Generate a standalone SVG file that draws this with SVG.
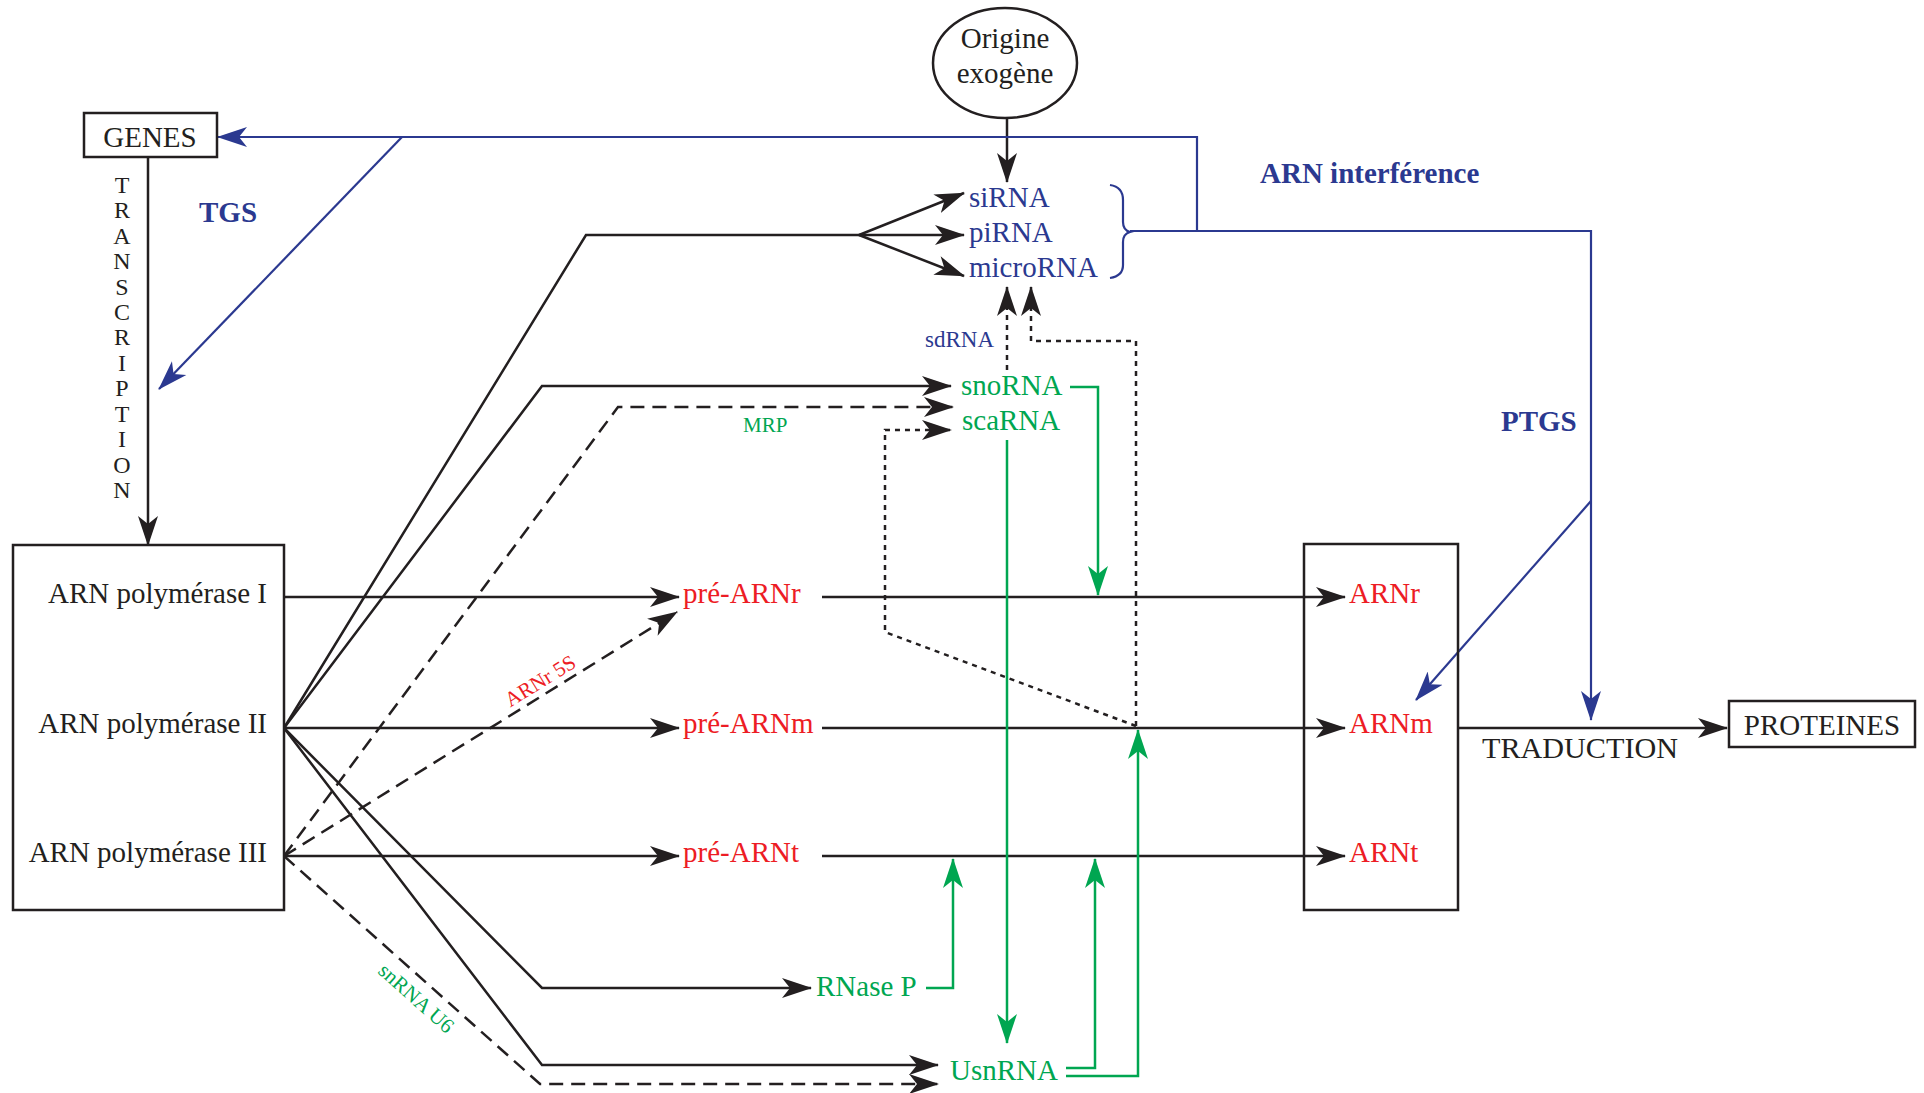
<svg xmlns="http://www.w3.org/2000/svg" width="1924" height="1093" viewBox="0 0 1924 1093">
<style>
text{font-family:"Liberation Serif","Times New Roman",serif;font-size:29px;fill:#231f20}
.b{font-weight:bold;fill:#2b3990}
.red{fill:#ed1c24}
.grt{fill:#00a651}
.blt{fill:#2b3990}
.sm{font-size:21px}
.sd{font-size:23px}
.tr{font-size:24px}
.box{fill:#fff;stroke:#231f20;stroke-width:2.5}
.frame{fill:none;stroke:#231f20;stroke-width:2.5}
.ln{fill:none;stroke:#231f20;stroke-width:2.5}
.dash{stroke-dasharray:14 8}
.dot{stroke-dasharray:5 5}
.g{stroke:#00a651}
.bl{fill:none;stroke:#2b3990;stroke-width:2.2}
.ak{marker-end:url(#ak)}
.ag{marker-end:url(#ag)}
.ab{marker-end:url(#ab)}
</style>
<defs>
<marker id="ak" markerUnits="userSpaceOnUse" viewBox="0 0 30 22" markerWidth="30" markerHeight="22" refX="29" refY="11" orient="auto"><path d="M30,11 L0,1 L8,11 L0,21 Z" fill="#231f20"/></marker>
<marker id="ag" markerUnits="userSpaceOnUse" viewBox="0 0 30 22" markerWidth="30" markerHeight="22" refX="29" refY="11" orient="auto"><path d="M30,11 L0,1 L8,11 L0,21 Z" fill="#00a651"/></marker>
<marker id="ab" markerUnits="userSpaceOnUse" viewBox="0 0 30 22" markerWidth="30" markerHeight="22" refX="29" refY="11" orient="auto"><path d="M30,11 L0,1 L8,11 L0,21 Z" fill="#2b3990"/></marker>
</defs>
<rect width="1924" height="1093" fill="#fff"/>

<g id="connectors">
<!-- black solid -->
<path class="ln ak" d="M148,157 L148,545"/>
<path class="ln ak" d="M1007,118 L1007,182"/>
<path class="ln ak" d="M284,597 L679,597"/>
<path class="ln ak" d="M284,728 L679,728"/>
<path class="ln ak" d="M284,856 L679,856"/>
<path class="ln" d="M284,728 L586,235 L859,235"/>
<path class="ln ak" d="M859,235 L964,193"/>
<path class="ln ak" d="M859,235 L964,235"/>
<path class="ln ak" d="M859,235 L964,276"/>
<path class="ln ak" d="M284,728 L542,386 L951,386"/>
<path class="ln ak" d="M284,728 L542,988 L811,988"/>
<path class="ln ak" d="M284,728 L542,1065 L938,1065"/>
<path class="ln ak" d="M822,597 L1345,597"/>
<path class="ln ak" d="M822,728 L1345,728"/>
<path class="ln ak" d="M822,856 L1345,856"/>
<path class="ln ak" d="M1458,728 L1727,728"/>
<!-- black dashed -->
<path class="ln dash ak" d="M284,856 L618,407 L953,407"/>
<path class="ln dash ak" d="M284,856 L677,612"/>
<path class="ln dash ak" d="M284,856 L540,1084 L938,1084"/>
<!-- black dotted -->
<path class="ln dot ak" d="M1007,370 L1007,287"/>
<path class="ln dot ak" d="M1136,726 L1136,341 L1031,341 L1031,287"/>
<path class="ln dot ak" d="M1136,726 L885,632 L885,430 L951,430"/>
<!-- green -->
<path class="ln g ag" d="M1070,387 L1098,387 L1098,595"/>
<path class="ln g ag" d="M1007,440 L1007,1043"/>
<path class="ln g ag" d="M926,988 L953,988 L953,859"/>
<path class="ln g ag" d="M1066,1068 L1095,1068 L1095,859"/>
<path class="ln g ag" d="M1066,1076 L1138,1076 L1138,730"/>
<!-- blue -->
<path class="bl" d="M1110,185 Q1123,187 1123,200 L1123,222 Q1123,230 1130,232 Q1123,234 1123,242 L1123,265 Q1123,276 1110,278"/>
<path class="bl ab" d="M1130,231 L1591,231 L1591,720"/>
<path class="bl ab" d="M1197,231 L1197,137 L218,137"/>
<path class="bl ab" d="M402,137 L159,389"/>
<path class="bl ab" d="M1591,501 L1416,700"/>
</g>

<g id="genes"><rect class="box" x="84" y="113" width="133" height="44"/><text x="150" y="147" text-anchor="middle">GENES</text></g>
<g id="origine"><ellipse cx="1005" cy="63" rx="72" ry="55" fill="#fff" stroke="#231f20" stroke-width="2.5"/><text x="1005" y="48" text-anchor="middle">Origine</text><text x="1005" y="83" text-anchor="middle">exogène</text></g>
<g id="polymerases"><rect class="box" x="13" y="545" width="271" height="365"/>
<text x="267" y="603" text-anchor="end">ARN polymérase I</text>
<text x="267" y="733" text-anchor="end">ARN polymérase II</text>
<text x="267" y="862" text-anchor="end">ARN polymérase III</text></g>
<g id="sirna"><text class="blt" x="969" y="207">siRNA</text></g>
<g id="pirna"><text class="blt" x="969" y="242">piRNA</text></g>
<g id="microrna"><text class="blt" x="969" y="277">microRNA</text></g>
<g id="snorna"><text class="grt" x="961" y="395">snoRNA</text></g>
<g id="scarna"><text class="grt" x="962" y="430">scaRNA</text></g>
<g id="pre-arnr"><text class="red" x="683" y="603">pré-ARNr</text></g>
<g id="pre-arnm"><text class="red" x="683" y="733">pré-ARNm</text></g>
<g id="pre-arnt"><text class="red" x="683" y="862">pré-ARNt</text></g>
<g id="rnasep"><text class="grt" x="816" y="996">RNase P</text></g>
<g id="usnrna"><text class="grt" x="950" y="1080">UsnRNA</text></g>
<g id="arn-matures"><rect class="frame" x="1304" y="544" width="154" height="366"/>
<text class="red" x="1349" y="603">ARNr</text>
<text class="red" x="1349" y="733">ARNm</text>
<text class="red" x="1349" y="862">ARNt</text></g>
<g id="proteines"><rect class="box" x="1729" y="701" width="186" height="46"/><text x="1822" y="735" text-anchor="middle">PROTEINES</text></g>

<g id="labels">
<text class="b" x="199" y="222">TGS</text>
<text class="b" x="1260" y="183">ARN interférence</text>
<text class="b" x="1501" y="431">PTGS</text>
<text x="1482" y="758" textLength="196" lengthAdjust="spacingAndGlyphs">TRADUCTION</text>
<text class="blt sd" x="925" y="347">sdRNA</text>
<text class="grt sm" x="743" y="432">MRP</text>
<text class="red sm" transform="translate(547,692) rotate(-31.7)" x="0" y="-6" text-anchor="middle">ARNr 5S</text>
<text class="grt sm" transform="translate(429,984) rotate(41.7)" x="0" y="26" text-anchor="middle">snRNA U6</text>
<text class="tr" text-anchor="middle"><tspan x="122" y="193">T</tspan><tspan x="122" y="218">R</tspan><tspan x="122" y="244">A</tspan><tspan x="122" y="269">N</tspan><tspan x="122" y="295">S</tspan><tspan x="122" y="320">C</tspan><tspan x="122" y="345">R</tspan><tspan x="122" y="371">I</tspan><tspan x="122" y="396">P</tspan><tspan x="122" y="422">T</tspan><tspan x="122" y="447">I</tspan><tspan x="122" y="473">O</tspan><tspan x="122" y="498">N</tspan></text>
</g>
</svg>
